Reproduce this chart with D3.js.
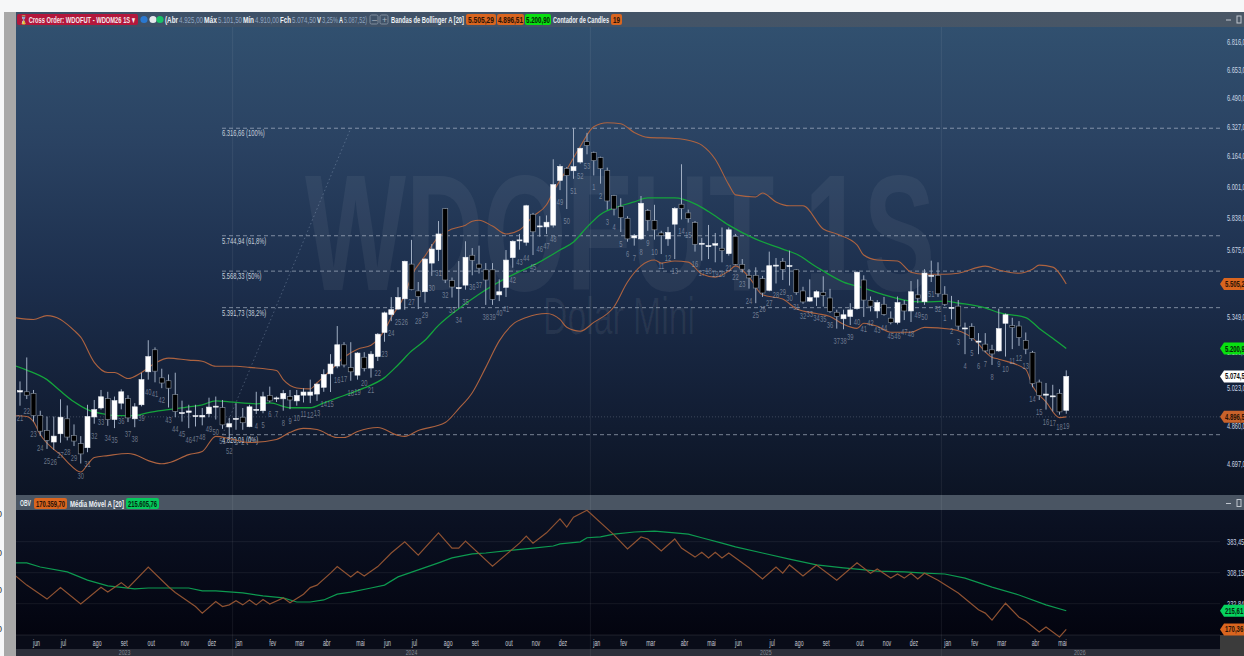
<!DOCTYPE html>
<html lang="pt-BR">
<head>
<meta charset="utf-8">
<title>WDOFUT 1S</title>
<script src="https://cdn.jsdelivr.net/npm/d3@7/dist/d3.min.js"></script>
<style>
html,body{margin:0;padding:0;background:#f5f6f7;overflow:hidden}
svg{display:block;font-family:'Liberation Sans',sans-serif}
</style>
</head>
<body>
<svg id="chart" width="1244" height="656"></svg>
<script>
// ---------- data ----------
const weekLabels = [...d3.range(21,53), ...d3.range(1,54), ...d3.range(1,53), ...d3.range(1,20)];
const openValues = [
5005,5006,4999,4903,4838,4789,4824,4888,4817,4782,
4765,4896,4935,4976,4885,4956,4976,4888,4949,5095,
5195,5068,5055,4994,4912,4916,4899,4896,4910,4942,
4937,4853,4888,4895,4854,4927,4923,4990,4976,4975,
4985,4966,4991,4991,4996,5026,5086,5121,5218,5114,
5080,5161,5112,5164,5275,5359,5385,5434,5603,5472,
5468,5608,5675,5884,5523,5485,5500,5647,5603,5575,
5575,5453,5489,5635,5721,5712,5855,5792,5790,5799,
6032,6097,6084,6131,6242,6182,6155,6086,5952,5895,
5834,5734,5729,5874,5822,5759,5729,5804,5907,5862,
5812,5704,5690,5697,5682,5655,5742,5602,5548,5548,
5532,5475,5595,5617,5594,5575,5472,5423,5442,5465,
5438,5370,5339,5350,5387,5525,5427,5376,5408,5342,
5322,5408,5376,5453,5420,5545,5548,5456,5390,5399,
5293,5302,5232,5221,5195,5190,5318,5307,5305,5238,
5183,5049,4991,4984,4999,4925];
const highValues = [
5052,5160,5014,4923,4898,4898,4973,4946,4864,4814,
4949,4970,5014,5006,4985,5017,4991,4956,5091,5239,
5206,5109,5083,5091,4967,4949,4949,4935,4980,4985,
4970,4892,4956,4935,4949,5006,5006,5029,4985,5014,
5014,5014,5022,5060,5045,5106,5175,5305,5230,5230,
5184,5184,5189,5272,5373,5442,5490,5620,5724,5515,
5632,5703,5820,5887,5537,5618,5717,5683,5695,5608,
5608,5528,5673,5722,5754,5904,5862,5845,5849,6146,
6119,6104,6317,6209,6291,6188,6160,6101,5956,5938,
5845,5754,5950,5882,5904,5770,5790,5892,6119,5879,
5820,5734,5800,5759,5787,5787,5754,5628,5578,5587,
5545,5665,5633,5633,5670,5578,5492,5528,5475,5543,
5482,5382,5382,5413,5567,5548,5445,5428,5443,5374,
5445,5428,5520,5528,5578,5620,5612,5495,5448,5428,
5321,5318,5272,5272,5218,5387,5364,5344,5328,5275,
5190,5060,5045,5037,5017,5101.5];
const lowValues = [
4945,4974,4876,4814,4760,4756,4786,4796,4772,4699,
4746,4867,4928,4858,4848,4929,4874,4852,4942,5060,
5048,5022,4937,4895,4876,4848,4855,4860,4895,4885,
4845,4800,4841,4841,4852,4909,4912,4959,4961,4923,
4930,4945,4959,4956,4966,5006,5005,5111,5115,5055,
5060,5097,5069,5144,5232,5328,5382,5382,5475,5385,
5416,5545,5618,5510,5440,5388,5478,5548,5557,5405,
5405,5423,5443,5585,5675,5695,5648,5740,5754,5787,
5981,5882,6041,6122,6173,6059,6015,5879,5849,5764,
5715,5695,5724,5770,5725,5653,5694,5628,5828,5812,
5665,5620,5628,5612,5612,5645,5598,5562,5483,5413,
5443,5470,5508,5525,5498,5453,5410,5420,5400,5397,
5367,5293,5290,5310,5382,5348,5374,5342,5354,5313,
5313,5333,5324,5413,5405,5515,5443,5400,5336,5287,
5175,5236,5175,5183,5126,5186,5164,5198,5213,5175,
5026,4970,4928,4920,4906,4910];
const closeValues = [
5011,4991,4902,4835,4796,4814,4895,4810,4793,4739,
4898,4928,4984,4885,4967,5006,4892,4940,5060,5164,
5098,5045,5022,4920,4915,4922,4902,4903,4939,4943,
4862,4867,4890,4871,4940,4929,4984,4966,4979,4999,
4970,4990,5005,5005,5040,5083,5130,5218,5126,5095,
5180,5111,5175,5267,5367,5382,5441,5617,5478,5445,
5628,5678,5754,5525,5491,5488,5637,5622,5583,5525,
5431,5468,5623,5717,5724,5899,5765,5795,5814,6010,
6108,6059,6106,6206,6222,6139,6095,5924,5882,5837,
5729,5745,5912,5824,5775,5747,5762,5885,5885,5832,
5702,5707,5695,5705,5670,5775,5602,5578,5535,5486,
5462,5595,5598,5577,5596,5465,5419,5440,5468,5450,
5374,5350,5358,5381,5563,5428,5399,5416,5360,5321,
5416,5376,5468,5437,5559,5548,5458,5408,5393,5305,
5296,5247,5235,5190,5176,5293,5358,5298,5252,5198,
5042,4990,4996,4988,4918,5074.5];

const bbUpperIdx = [-1,2,4,6,7,8,9,11,13,14,16,18,20,22,25,27,29,32,34,38,39,41,43,44,46,48,50,52,54,55,57,58,60,62,64,66,67,68,70,72,74,76,78,79,81,83,85,87,89,91,93,97,99,101,103,105,106,109,110,112,114,116,119,121,124,125,127,130,132,134,137,139,143,145,148,150,151,153,155];
const bbUpperValues = [5345,5336,5354,5336,5313,5285,5253,5138,5092,5092,5065,5092,5134,5157,5148,5143,5120,5120,5115,5101,5060,5023,5019,5046,5101,5161,5198,5216,5285,5345,5453,5544,5643,5739,5779,5799,5819,5824,5794,5754,5774,5844,5904,5972,6091,6216,6325,6347,6342,6293,6266,6260,6250,6223,6146,6010,5956,5945,5966,5919,5899,5899,5779,5754,5699,5648,5623,5618,5563,5553,5553,5558,5593,5574,5558,5578,5598,5588,5505.29];
const bbLowerIdx = [-1,1,2,3,5,6,7,9,10,11,13,16,17,19,21,22,25,27,29,31,34,38,40,42,44,47,48,50,53,56,57,59,63,65,67,69,71,73,75,78,80,81,83,85,88,90,92,94,95,97,99,101,103,105,106,108,110,113,115,118,120,122,124,125,127,129,132,134,138,141,144,145,149,150,152,154,155];
const bbLowerValues = [4902,4898,4876,4821,4758,4736,4706,4664,4694,4724,4732,4741,4736,4711,4698,4702,4736,4749,4813,4804,4787,4800,4830,4847,4842,4808,4808,4834,4851,4817,4813,4838,4872,4932,5002,5115,5236,5313,5345,5364,5336,5299,5281,5322,5396,5515,5594,5623,5608,5618,5613,5554,5539,5569,5594,5539,5453,5433,5387,5364,5350,5313,5294,5318,5304,5276,5276,5299,5290,5252,5161,5152,5106,5032,4962,4893,4896.51];
const bbMidIdx = [-1,1,4,6,8,10,12,14,17,19,22,25,27,29,31,35,37,40,43,45,47,49,51,54,56,58,60,62,65,68,72,77,80,82,84,86,89,91,93,97,100,102,105,109,113,115,118,122,125,128,131,134,137,139,143,145,149,151,153,155];
const bbMidValues = [5125,5103,5060,5009,4962,4928,4911,4902,4902,4915,4928,4940,4949,4966,4962,4953,4957,4936,4936,4957,4979,5000,5023,5069,5126,5189,5239,5308,5387,5456,5534,5614,5673,5713,5789,5854,5899,5919,5940,5940,5909,5869,5799,5728,5678,5653,5589,5515,5486,5453,5428,5419,5423,5414,5391,5368,5345,5294,5248,5200.9];

const fibLevels = [6316.66,5744.94,5568.33,5391.73,4820.01];
const fibNames = ['6.316,66 (100%)','5.744,94 (61,8%)','5.568,33 (50%)','5.391,73 (38,2%)','4.820,01 (0%)'];
const fibDiagonalIdx = [30,49];
const fibDiagonalValues = [4820.01,6316.66];
const lastBandLevel = 4896.51;

const priceTicks = [6816,6653,6490,6327,6164,6001,5838,5675,5512,5349,5186,5023,4860,4697];

const obvIdx = [-1,1,4,6,9,12,13,15,16,19,22,23,26,27,29,30,31,32,33,34,35,36,37,39,40,42,43,44,46,47,49,50,51,53,55,57,59,62,64,65,66,70,74,75,76,78,80,81,82,84,88,90,92,93,95,97,98,100,101,102,103,104,105,108,110,112,113,114,116,118,121,124,126,127,129,130,131,132,133,134,136,139,142,143,144,146,148,149,151,152,154,155];
const obvValues = [305,278,244,272,232,273,261,284,271,322,274,260,226,210,238,226,230,240,230,242,230,243,232,247,235,256,272,278,307,323,298,311,300,323,356,383,351,405,368,368,385,324,380,397,380,405,439,419,443,460,400,366,395,390,361,390,368,346,358,344,358,344,356,320,293,322,307,327,300,327,290,332,307,317,295,305,295,307,293,307,290,259,218,210,193,234,200,191,164,176,152,170.36];
const obvMaIdx = [-1,1,3,7,10,13,17,19,25,27,29,33,36,39,41,43,45,47,49,52,54,56,59,62,64,67,69,73,76,79,80,83,84,86,88,91,94,97,99,101,104,106,110,114,118,122,124,127,131,134,137,140,144,148,152,155];
const obvMaValues = [332,332,322,310,290,276,269,271,271,264,264,259,252,247,237,237,242,256,261,271,278,298,315,332,344,354,356,363,368,373,378,383,393,395,402,407,409,405,402,393,380,371,356,341,327,320,317,312,310,307,305,295,273,254,230,215.61];
const obvTicks = [383.45,308.15,232.84];

const monthIdx = [2,6,11,15,19,24,28,32,37,41,45,50,54,58,63,67,72,76,80,85,89,93,98,102,106,111,115,119,124,128,132,137,141,145,150,154];
const monthNames = ['jun','jul','ago','set','out','nov','dez','jan','fev','mar','abr','mai','jun','jul','ago','set','out','nov','dez','jan','fev','mar','abr','mai','jun','jul','ago','set','out','nov','dez','jan','fev','mar','abr','mai'];
const yearBoundaryIdx = [31.5,84.5,136.5];
const yearCenterIdx = [15.5,58,110.5,157];
const yearNames = ['2023','2024','2025','2026'];

// ---------- chart ----------
const svg = d3.select('#chart');
const defs = svg.append('defs');
const L = 16, R = 1220;
const loc = d3.formatLocale({decimal:',',thousands:'.',grouping:[3],currency:['','']});
const fmt2 = loc.format(',.2f');
const x = d3.scaleLinear().domain([0,155]).range([20,1066.25]);
const y = d3.scaleLog().domain([4697,6816]).range([464,42]);
const yObv = d3.scaleLinear().domain([232.84,383.45]).range([603.7,541.7]);

// The reference uses a very condensed face: squeeze the installed one to the same width.
const narrow = (sel,f) => sel.each(function(){
  const w=this.getComputedTextLength();
  this.setAttribute('textLength',(w*f).toFixed(1));
  this.setAttribute('lengthAdjust','spacingAndGlyphs');
});

const g1 = defs.append('linearGradient').attr('id','mainBg').attr('x1',0).attr('x2',0).attr('y1',0).attr('y2',1);
[[0,'#31506f'],[.25,'#2a4262'],[.55,'#1c2e4c'],[.8,'#131f36'],[1,'#0c1424']].forEach(s=>g1.append('stop').attr('offset',s[0]).attr('stop-color',s[1]));
const g2 = defs.append('linearGradient').attr('id','subBg').attr('x1',0).attr('x2',0).attr('y1',0).attr('y2',1);
[[0,'#0b1224'],[1,'#03040f']].forEach(s=>g2.append('stop').attr('offset',s[0]).attr('stop-color',s[1]));
const g3 = defs.append('linearGradient').attr('id','headBg').attr('x1',0).attr('x2',1).attr('y1',0).attr('y2',0);
[[0,'#3c5068'],[1,'#4a5766']].forEach(s=>g3.append('stop').attr('offset',s[0]).attr('stop-color',s[1]));
defs.append('clipPath').attr('id','clipMain').append('rect').attr('x',L).attr('y',27).attr('width',R-L).attr('height',468);
defs.append('clipPath').attr('id','clipSub').append('rect').attr('x',L).attr('y',496).attr('width',R-L).attr('height',142);

// page frame
const rect=(x0,y0,w,h,fill)=>svg.append('rect').attr('x',x0).attr('y',y0).attr('width',w).attr('height',h).attr('fill',fill);
rect(0,0,1244,656,'#f6f7f8');
rect(4,12,12,644,'#a8a8a8');
rect(16,12,1228,15,'url(#headBg)');
rect(16,27,1228,468,'url(#mainBg)');
rect(16,495,1228,15,'#4a5563');
rect(16,510,1228,125,'url(#subBg)');
rect(16,635,1204,14,'#090c18');
rect(16,649,1204,7,'#2c2f3a');
rect(1220,635,24,21,'#3b3b3b');

// left-hand labels cut off by the window edge
svg.selectAll('.edge').data([514,553,590,629]).join('text').attr('class','edge')
  .attr('x',-3).attr('y',d=>d+3).attr('font-size',9).attr('fill','#333').text('0');

// watermark
svg.append('text').attr('x',305).attr('y',290).attr('textLength',630).attr('lengthAdjust','spacingAndGlyphs')
  .attr('font-size',165).attr('font-weight','bold').attr('fill','rgba(255,255,255,0.055)').text('WDOFUT 1S');
svg.append('text').attr('x',543).attr('y',334).attr('textLength',152).attr('lengthAdjust','spacingAndGlyphs')
  .attr('font-size',52).attr('fill','rgba(255,255,255,0.06)').text('Dolar Mini');

// year separators
svg.selectAll('.ysep').data(yearBoundaryIdx).join('line').attr('class','ysep')
  .attr('x1',d=>x(d)).attr('x2',d=>x(d)).attr('y1',27).attr('y2',656)
  .attr('stroke','rgba(255,255,255,0.07)');

// sub pane grid
svg.selectAll('.ogrid').data(obvTicks).join('line').attr('class','ogrid')
  .attr('x1',L).attr('x2',R).attr('y1',d=>yObv(d)).attr('y2',d=>yObv(d))
  .attr('stroke','rgba(255,255,255,0.07)');
svg.append('line').attr('x1',L).attr('x2',R).attr('y1',635).attr('y2',635).attr('stroke','rgba(255,255,255,0.1)');

// fibonacci
const main = svg.append('g').attr('clip-path','url(#clipMain)');
main.selectAll('.fib').data(fibLevels).join('line').attr('class','fib')
  .attr('x1',222).attr('x2',R).attr('y1',d=>y(d)).attr('y2',d=>y(d))
  .attr('stroke','rgba(190,200,215,0.6)').attr('stroke-dasharray','4,3');
main.selectAll('.fibt').data(fibLevels).join('text').attr('class','fibt')
  .attr('x',222).attr('y',d=>y(d)+8).attr('font-size',8.5).attr('fill','#c5ceda')
  .text((d,i)=>fibNames[i]).call(narrow,.68);
main.append('line').attr('x1',x(fibDiagonalIdx[0])).attr('x2',x(fibDiagonalIdx[1]))
  .attr('y1',y(fibDiagonalValues[0])).attr('y2',y(fibDiagonalValues[1]))
  .attr('stroke','rgba(170,190,215,0.32)').attr('stroke-dasharray','1.5,2.5');
main.append('line').attr('x1',L).attr('x2',R).attr('y1',y(lastBandLevel)).attr('y2',y(lastBandLevel))
  .attr('stroke','rgba(190,200,215,0.25)').attr('stroke-dasharray','1,2');

// Bollinger bands
const series=(idx,vals)=>idx.map((d,i)=>[d,vals[i]]);
const bandLine = d3.line().x(d=>x(d[0])).y(d=>y(d[1])).curve(d3.curveMonotoneX);
main.append('path').attr('d',bandLine(series(bbUpperIdx,bbUpperValues))).attr('fill','none').attr('stroke','#ad6340').attr('stroke-width',1.1);
main.append('path').attr('d',bandLine(series(bbLowerIdx,bbLowerValues))).attr('fill','none').attr('stroke','#ad6340').attr('stroke-width',1.1);
main.append('path').attr('d',bandLine(series(bbMidIdx,bbMidValues))).attr('fill','none').attr('stroke','#14a53c').attr('stroke-width',1.3);

// candles
const candles = weekLabels.map((w,i)=>({i,w,o:openValues[i],h:highValues[i],l:lowValues[i],c:closeValues[i]}));
const cg = main.append('g');
cg.selectAll('.wick').data(candles).join('line').attr('class','wick')
  .attr('x1',d=>x(d.i)).attr('x2',d=>x(d.i)).attr('y1',d=>y(d.h)).attr('y2',d=>y(d.l))
  .attr('stroke','#9fadc2').attr('stroke-width',1);
cg.selectAll('.body').data(candles).join('rect').attr('class','body')
  .attr('x',d=>x(d.i)-2.5).attr('width',5)
  .attr('y',d=>Math.min(y(d.o),y(d.c)))
  .attr('height',d=>Math.max(1,Math.abs(y(d.o)-y(d.c))))
  .attr('fill',d=>d.c>=d.o?'#ffffff':'#000000')
  .attr('stroke',d=>d.c>=d.o?'#e8ecf2':'#8c96a4').attr('stroke-width',.6);
cg.selectAll('.wlabel').data(candles).join('text').attr('class','wlabel')
  .attr('x',d=>x(d.i)).attr('y',d=>y(d.l)+15).attr('text-anchor','middle')
  .attr('font-size',8.5).attr('fill','rgba(170,180,195,0.6)').text(d=>d.w).call(narrow,.68);

// price axis
const axisP = d3.axisRight(y).tickValues(priceTicks).tickFormat(fmt2).tickSize(0).tickPadding(0);
const ga = svg.append('g').attr('transform','translate(1227,0)').call(axisP);
ga.select('.domain').remove();
ga.selectAll('text').attr('font-size',8.5).attr('fill','#c9d5e5').attr('font-family',"'Liberation Sans',sans-serif").call(narrow,.66);

// price tags
const tag=(yy,fill,txt,col)=>{
  svg.append('path').attr('d',d3.line()([[1220,yy],[1224,yy-6],[1244,yy-6],[1244,yy+6],[1224,yy+6]])+'Z').attr('fill',fill);
  svg.append('text').attr('x',1225).attr('y',yy+3).attr('font-size',9).attr('font-weight','bold').attr('fill',col).text(txt).call(narrow,.66);
};
tag(y(5505.29),'#d9651f','5.505,29','#2a1206');
tag(y(5200.9),'#08e010','5.200,90','#062206');
tag(y(5074.5),'#ffffff','5.074,50','#111');
tag(y(4896.51),'#c8622b','4.896,51','#2a1206');

// OBV pane
const sub = svg.append('g').attr('clip-path','url(#clipSub)');
const obvLine = d3.line().x(d=>x(d[0])).y(d=>yObv(d[1]));
sub.append('path').attr('d',obvLine(series(obvMaIdx,obvMaValues))).attr('fill','none').attr('stroke','#0d9a50').attr('stroke-width',1.2);
sub.append('path').attr('d',obvLine(series(obvIdx,obvValues))).attr('fill','none').attr('stroke','#8f5232').attr('stroke-width',1.2);

const axisO = d3.axisRight(yObv).tickValues(obvTicks).tickFormat(fmt2).tickSize(0).tickPadding(0);
const gb = svg.append('g').attr('transform','translate(1227,0)').call(axisO);
gb.select('.domain').remove();
gb.selectAll('text').attr('font-size',8.5).attr('fill','#c9d5e5').attr('font-family',"'Liberation Sans',sans-serif").call(narrow,.66);
tag(yObv(215.61),'#06d35f','215,61','#04250f');
tag(yObv(170.36),'#d9651f','170,36','#2a1206');

// month / year axis
svg.selectAll('.mon').data(monthIdx).join('text').attr('class','mon')
  .attr('x',d=>x(d)+3).attr('y',646).attr('text-anchor','middle').attr('font-size',8.5).attr('fill','#c3c9d3')
  .text((d,i)=>monthNames[i]).call(narrow,.62);
svg.selectAll('.yr').data(yearCenterIdx).join('text').attr('class','yr')
  .attr('x',d=>x(d)).attr('y',655).attr('text-anchor','middle').attr('font-size',6.5).attr('fill','#858a94')
  .text((d,i)=>yearNames[i]).call(narrow,.8);

// header bar
const badge=(x0,y0,w,fill)=>svg.append('rect').attr('x',x0).attr('y',y0).attr('width',w).attr('height',11).attr('rx',2).attr('fill',fill);
const htxt=(x0,y0,t,w,fill,bold)=>{const s=svg.append('text').attr('x',x0).attr('y',y0).attr('font-size',9).attr('fill',fill).attr('font-weight',bold?'bold':'normal').text(t);
  if(w) s.attr('textLength',w).attr('lengthAdjust','spacingAndGlyphs');return s;};
badge(17,14,121,'#b3173c');
htxt(20,23,'⌛ Cross Order: WDOFUT - WDOM26 1S ▾',115,'#f4e6ea',true);
[[144,'#2a78d0'],[153,'#e6e8ec'],[160,'#19c268']].forEach(c=>svg.append('circle').attr('cx',c[0]).attr('cy',19.5).attr('r',3.6).attr('fill',c[1]));
const ohlcParts=[['(Abr',165,13,1],['4.925,00',179,24,0],['Máx',204,13,1],['5.101,50',218,24,0],['Mín',243,11,1],['4.910,00',255,24,0],['Fch',280,11,1],['5.074,50',292,24,0],['V',317,4,1],['3,25%',322,16,0],['A',339,4,1],['5.087,52)',344,23,0]];
ohlcParts.forEach(p=>htxt(p[1],23,p[0],p[2],p[3]?'#eef2f6':'#8fa6c2',!!p[3]));
[[370,'–'],[380,'+']].forEach(b=>{svg.append('rect').attr('x',b[0]).attr('y',15).attr('width',8).attr('height',9).attr('rx',1.5).attr('fill','none').attr('stroke','#7f8c9c');
  htxt(b[0]+2,23,b[1],0,'#aab4c0',false);});
htxt(391,23,'Bandas de Bollinger A [20]',73,'#eef2f6',true);
badge(466,14,30,'#d9651f'); htxt(468,23,'5.505,29',26,'#2a1206',true);
badge(497,14,27,'#d9651f'); htxt(498,23,'4.896,51',25,'#2a1206',true);
badge(525,14,26,'#08e010'); htxt(526,23,'5.200,90',24,'#062206',true);
htxt(553,23,'Contador de Candles',56,'#eef2f6',true);
badge(611,14,11,'#d9651f'); htxt(613,23,'19',7,'#2a1206',true);

// OBV header
htxt(20,506,'OBV',11,'#e6eaee',true);
badge(34,498,33,'#d9651f'); htxt(36,506.5,'170.359,70',29,'#2a1206',true);
htxt(70,506.5,'Média Móvel A [20]',54,'#eef2f6',true);
badge(126,498,33,'#06c85c'); htxt(128,506.5,'215.605,76',29,'#04250f',true);

// window buttons
[19.5,503].forEach(yy=>{
  svg.append('line').attr('x1',1226).attr('x2',1231).attr('y1',yy+.5).attr('y2',yy+.5).attr('stroke','#c0c6ce');
  svg.append('rect').attr('x',1237).attr('y',yy-3.5).attr('width',4).attr('height',7).attr('fill','none').attr('stroke','#c0c6ce');
});
</script>
</body>
</html>
